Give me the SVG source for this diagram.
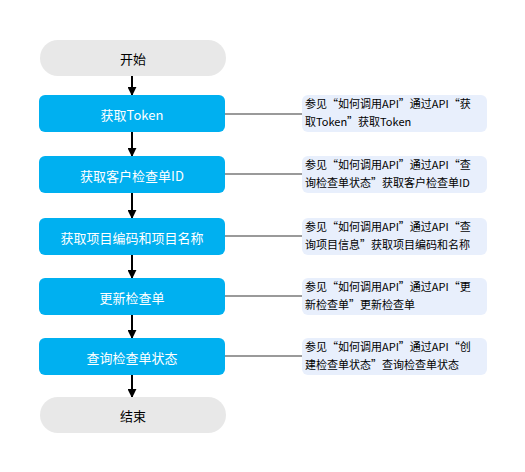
<svg xmlns="http://www.w3.org/2000/svg" width="525" height="472" viewBox="0 0 525 472">
<defs>
<marker id="ah" viewBox="0 0 10 10" refX="9" refY="5" markerWidth="9" markerHeight="9" markerUnits="userSpaceOnUse" orient="auto">
<path d="M0,0 L10,5 L0,10 z" fill="#000"/>
</marker>
<style>
.term{fill:#e8e8e8;}
.step{fill:#00b0f0;}
.note{fill:#e8effc;}
.t{font-family:"Noto Sans CJK SC","Liberation Sans",sans-serif;font-size:13px;text-anchor:middle;dominant-baseline:central;}
.tw{fill:#fff;}
.tb{fill:#000;}
.n{font-family:"Noto Sans CJK SC","Liberation Sans",sans-serif;font-size:11px;fill:#000;}
.arr{stroke:#000;stroke-width:2;fill:none;marker-end:url(#ah);}
.ln{stroke:#9a9a9a;stroke-width:2;fill:none;}
</style>
</defs>
<rect width="525" height="472" fill="#fff"/>
<g id="connectors">
<line class="arr" x1="132" y1="76" x2="132" y2="95"/>
<line class="arr" x1="132" y1="132" x2="132" y2="156"/>
<line class="arr" x1="132" y1="193" x2="132" y2="218"/>
<line class="arr" x1="132" y1="255" x2="132" y2="278"/>
<line class="arr" x1="132" y1="315" x2="132" y2="338"/>
<line class="arr" x1="132" y1="375" x2="132" y2="397"/>
<line class="ln" x1="225" y1="114" x2="302" y2="114"/>
<line class="ln" x1="225" y1="174" x2="302" y2="174"/>
<line class="ln" x1="225" y1="236" x2="302" y2="236"/>
<line class="ln" x1="225" y1="296" x2="302" y2="296"/>
<line class="ln" x1="225" y1="356" x2="302" y2="356"/>
</g>
<g id="start"><rect class="term" x="40" y="40" width="186" height="36" rx="18"/><text class="t tb" x="133" y="58">开始</text></g>
<g id="step1"><rect class="step" x="39" y="95" width="186" height="37" rx="6"/><text class="t tw" x="132" y="114">获取Token</text></g>
<g id="step2"><rect class="step" x="39" y="156" width="186" height="37" rx="6"/><text class="t tw" x="132" y="175">获取客户检查单ID</text></g>
<g id="step3"><rect class="step" x="39" y="218" width="186" height="37" rx="6"/><text class="t tw" x="132" y="237">获取项目编码和项目名称</text></g>
<g id="step4"><rect class="step" x="39" y="278" width="186" height="37" rx="6"/><text class="t tw" x="132" y="297">更新检查单</text></g>
<g id="step5"><rect class="step" x="39" y="338" width="186" height="37" rx="6"/><text class="t tw" x="132" y="357">查询检查单状态</text></g>
<g id="end"><rect class="term" x="40" y="397" width="186" height="36" rx="18"/><text class="t tb" x="133" y="415">结束</text></g>
<g id="note1"><rect class="note" x="302" y="95" width="185" height="37" rx="6"/><text class="n" x="305" y="108">参见“如何调用API”通过API“获</text><text class="n" x="305" y="126">取Token”获取Token</text></g>
<g id="note2"><rect class="note" x="302" y="156" width="185" height="37" rx="6"/><text class="n" x="305" y="169">参见“如何调用API”通过API“查</text><text class="n" x="305" y="187">询检查单状态”获取客户检查单ID</text></g>
<g id="note3"><rect class="note" x="302" y="218" width="185" height="37" rx="6"/><text class="n" x="305" y="231">参见“如何调用API”通过API“查</text><text class="n" x="305" y="249">询项目信息”获取项目编码和名称</text></g>
<g id="note4"><rect class="note" x="302" y="278" width="185" height="37" rx="6"/><text class="n" x="305" y="291">参见“如何调用API”通过API“更</text><text class="n" x="305" y="309">新检查单”更新检查单</text></g>
<g id="note5"><rect class="note" x="302" y="338" width="185" height="37" rx="6"/><text class="n" x="305" y="351">参见“如何调用API”通过API“创</text><text class="n" x="305" y="369">建检查单状态”查询检查单状态</text></g>
</svg>
